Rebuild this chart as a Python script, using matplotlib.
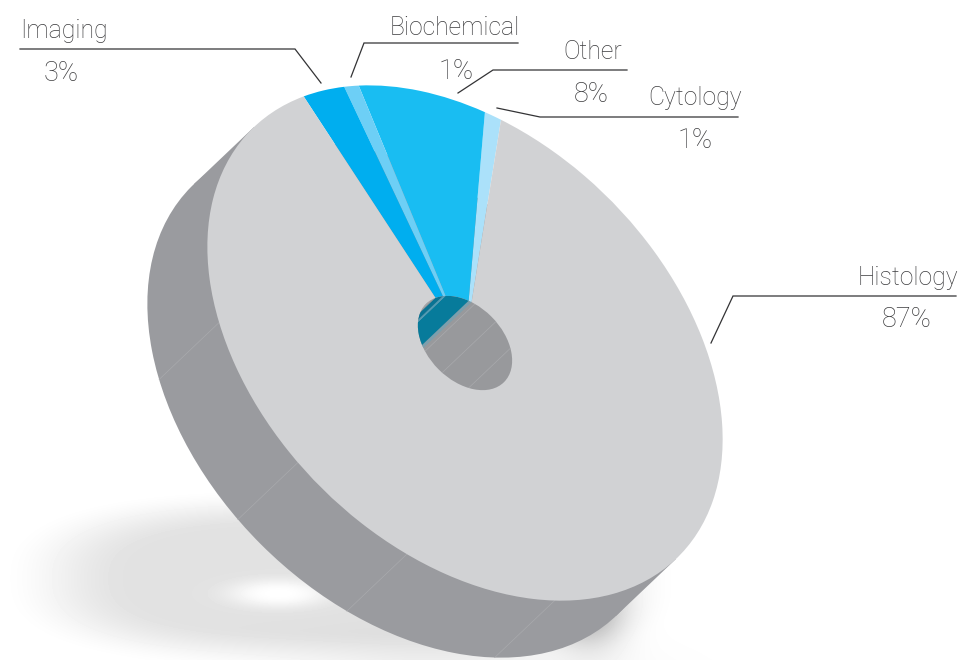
#!/usr/bin/env python3
"""Tilted 3D style doughnut of diagnostic methods, drawn in pixel coordinates."""
import numpy as np
import matplotlib
matplotlib.use("Agg")
import matplotlib.pyplot as plt
from matplotlib.patches import Circle, Polygon
from matplotlib.transforms import Affine2D

# pie order, counter-clockwise from the Cytology/Histology boundary
names = ["Cytology", "Other", "Biochemical", "Imaging", "Histology"]
values = [1, 8, 1, 3, 87]
top_colors = ["#abe1fa", "#19bdf2", "#6dcff6", "#00aeef", "#d1d2d4"]
wall_colors = ["#7d9fad", "#077b9b", "#4f9cb6", "#0a7393", "#98999c"]

# label text anchor (x, baseline y), percent anchor, leader polyline
name_xy = [(648, 105), (563, 59), (390, 35), (20, 38), (858, 285)]
pct_xy = [(678, 148), (574, 102), (439, 79), (44, 81), (882, 327)]
leaders = [
    [(738, 117), (540, 117), (497, 108)],
    [(627, 70), (493, 70), (458, 93)],
    [(518, 43), (364, 43), (351, 77)],
    [(20, 49), (295, 49), (321, 83)],
    [(956, 296), (733, 296), (711, 343)],
]

# seams on the grey side and inside the hole, degrees on the disc
side_seams = [231.4, 263.6, 291.0, 324.4]
hole_seams = [49.6, 83.0, 112.0, 170.0]

START_ANGLE = 116
HOLE_R = 0.183
SHIFT_PX = np.array([-60.0, 57.0])
SIDE_COLOR = "#9a9b9f"
SEAM_COLOR = "#a9aaad"
TEXT_COLOR = "#3c3c3e"


def smooth(t):
    t = np.clip(t, 0, 1)
    return t * t * (3 - 2 * t)


def shadow_image():
    y, x = np.mgrid[0:660, 0:961]
    q = (np.abs((x - 340) / 345.0) ** 3 + np.abs((y - 578) / 92.0) ** 2.6) ** (1 / 2.8)
    d = 0.115 * smooth((1.0 - q) / 0.42)
    d += 0.09 * np.exp(-(((x - 450) / 160.0) ** 2 + ((y - 690) / 45.0) ** 2))
    d += 0.24 * np.exp(-(((x - 590) / 34.0) ** 2 + ((y - 612) / 36.0) ** 2))
    # white glow under the near edge
    d *= 1 - np.exp(-(((x - 278) / 50.0) ** 2 + ((y - 593) / 14.0) ** 2) ** 1.3)
    return 1 - d


def main():
    plt.rcParams["font.family"] = ["Roboto", "DejaVu Sans"]
    fig = plt.figure(figsize=(9.61, 6.6), dpi=100)
    ax = fig.add_axes([0, 0, 1, 1])

    ax.imshow(shadow_image(), cmap="gray", vmin=0, vmax=1, zorder=0,
              extent=(0, 961, 660, 0), aspect="auto")

    wedges, _ = ax.pie(values, colors=top_colors, startangle=START_ANGLE,
                       counterclock=True, wedgeprops={"linewidth": 0})

    # unit disc -> tilted ellipse in pixels (y down)
    tf = Affine2D.from_values(213.5, 213.5, 144.2, -144.2, 465, 343)
    data_tf = tf + ax.transData
    shift = np.linalg.solve(tf.get_matrix()[:2, :2], SHIFT_PX)

    for w in wedges:
        w.set_transform(data_tf)
        w.set_zorder(3)

    # extruded side
    n = np.array([-shift[1], shift[0]]) / np.hypot(*shift)
    ax.add_patch(Circle(shift, 1, fc=SIDE_COLOR, lw=0, transform=data_tf, zorder=1))
    ax.add_patch(Polygon([n, n + shift, -n + shift, -n], fc=SIDE_COLOR, lw=0,
                         transform=data_tf, zorder=1))
    for a in side_seams:
        p = np.array([np.cos(np.radians(a)), np.sin(np.radians(a))])
        ax.plot([p[0], p[0] + shift[0]], [p[1], p[1] + shift[1]], color=SEAM_COLOR,
                lw=0.5, transform=data_tf, zorder=2)

    # hole with its inner wall
    hole = Circle((0, 0), HOLE_R, fc=wall_colors[-1], lw=0, transform=data_tf, zorder=4)
    ax.add_patch(hole)
    for w, c in zip(wedges[:-1], wall_colors[:-1]):
        t = np.radians(np.linspace(w.theta1, w.theta2, 20))
        rim = HOLE_R * np.column_stack([np.cos(t), np.sin(t)])
        poly = Polygon(np.vstack([rim, rim[::-1] + shift]), fc=c, lw=0,
                       transform=data_tf, zorder=5)
        ax.add_patch(poly)
        poly.set_clip_path(hole)
    for a in hole_seams:
        p = HOLE_R * np.array([np.cos(np.radians(a)), np.sin(np.radians(a))])
        line, = ax.plot([p[0], p[0] + shift[0]], [p[1], p[1] + shift[1]],
                        color=SEAM_COLOR, lw=0.5, transform=data_tf, zorder=6)
        line.set_clip_path(hole)

    # labels
    for name, v, nxy, pxy, leader in zip(names, values, name_xy, pct_xy, leaders):
        ax.text(*nxy, name, fontsize=17.8, fontweight="light", color=TEXT_COLOR,
                ha="left", va="baseline", zorder=7)
        ax.text(*pxy, f"{v}%", fontsize=19.5, fontweight="light", color=TEXT_COLOR,
                ha="left", va="baseline", zorder=7)
        xs, ys = zip(*leader)
        ax.plot(xs, ys, color="#333335", lw=0.9, solid_joinstyle="miter", zorder=7)

    ax.set_aspect("auto")
    ax.set_xlim(0, 961)
    ax.set_ylim(660, 0)
    ax.axis("off")
    fig.savefig("out.png", dpi=100)


if __name__ == "__main__":
    main()
